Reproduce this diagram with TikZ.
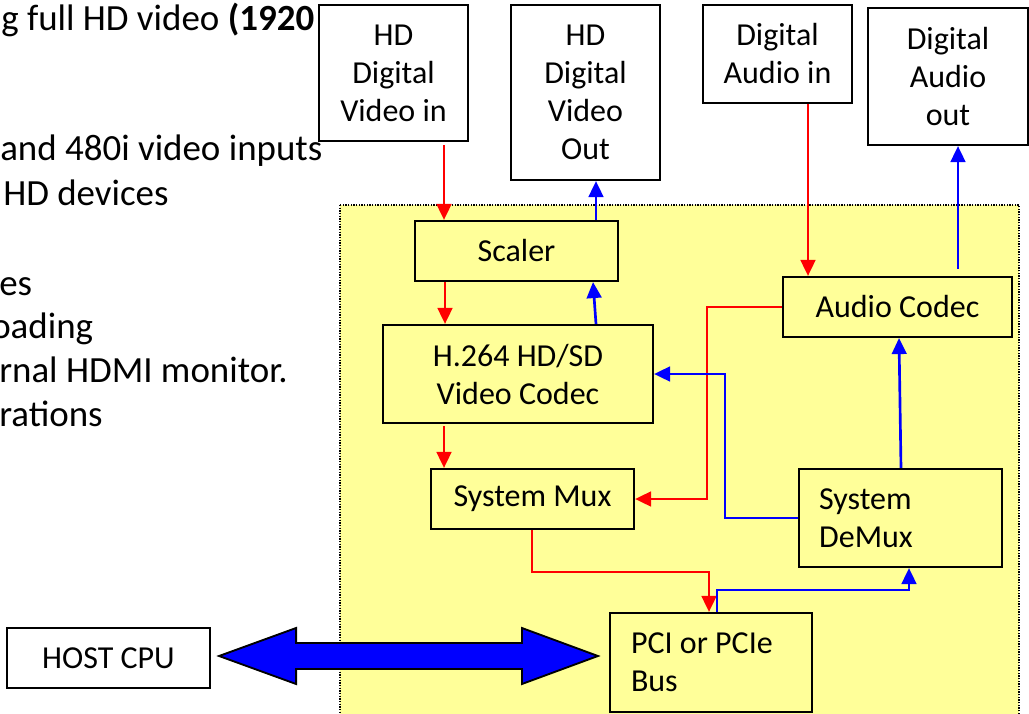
\documentclass[tikz,border=0pt]{standalone}
\usepackage{fontspec}
\setmainfont{Carlito}
\usetikzlibrary{arrows.meta,calc}
\definecolor{bgyellow}{HTML}{FFFF99}
\definecolor{arrred}{HTML}{FF0000}
\definecolor{arrblue}{HTML}{0000FF}
\newcommand\boxfont{\fontsize{24}{28.5}\selectfont}
\newcommand\sidefont{\fontsize{27.7}{33}\selectfont}
\tikzset{
  sz/.style 2 args={minimum width=#1*0.75pt, minimum height=#2*0.75pt},
  box/.style={draw=black, line width=1.6pt, inner sep=0pt, align=center, font=\boxfont},
  whitebox/.style={box, fill=white},
  yellowbox/.style={box, fill=bgyellow},
  sidetext/.style={anchor=base west, inner sep=0pt, font=\sidefont},
  ra/.style={draw=arrred, line width=2pt, -{Triangle[length=12pt,width=11pt]}},
  ba/.style={draw=arrblue, line width=2pt, -{Triangle[length=12pt,width=11pt]}},
  region/.style={fill=bgyellow, draw=black, line width=0.8pt, dash pattern=on 1pt off 1pt},
  fatarrow/.style={fill=arrblue, draw=black, line width=1.4pt, line join=miter},
}
\begin{document}
\begin{tikzpicture}[x=0.75pt,y=-0.75pt]
\useasboundingbox (0,0) rectangle (1029,714);
\fill[white] (0,0) rectangle (1029,714);
% board region
\draw[region] (340,205) rectangle (1019,740);

% left text (cut off at the picture's edge, as in the original)
\node[sidetext] (l1) at (1,30) {g full HD video \textbf{(1920}};
\node[sidetext] (l2) at (0,160) {and 480i video inputs};
\node[sidetext] (l3) at (3,205) {HD devices};
\node[sidetext] (l4) at (-1,295) {es};
\node[sidetext] (l5) at (-9,338) {oading};
\node[sidetext] (l6) at (-1,382) {rnal HDMI monitor.};
\node[sidetext] (l7) at (-1,426) {rations};

% top boxes
\node[whitebox, sz={149}{136}] (vin) at (393.5,73) {HD\\Digital\\Video in};
\node[whitebox, sz={149}{175}] (vout) at (585.5,92.5) {HD\\Digital\\Video\\Out};
\node[whitebox, sz={149}{98}] (ain) at (777.5,54) {Digital\\Audio in};
\node[whitebox, sz={160}{137}] (aout) at (948,76.5) {Digital\\Audio\\out};

% inner boxes
\node[yellowbox, sz={203}{60}] (scaler) at (516.5,251) {Scaler};
\node[yellowbox, sz={270}{98}] (h264) at (518,374) {H.264 HD/SD\\Video Codec};
\node[yellowbox, sz={229}{60}] (acodec) at (897.5,307) {Audio Codec};
\node[yellowbox, sz={203}{60}] (smux) at (532.5,499) {System Mux};
\node[yellowbox, sz={203}{98}, text width=122pt, align=flush left] (demux) at (900.5,518) {System\\DeMux};
\node[yellowbox, sz={202}{99}, text width=120pt, align=flush left] (pci) at (711,662.5) {PCI or PCIe\\Bus};
\node[whitebox, sz={203}{60}] (host) at (108.5,658) {HOST CPU};

% connectors
\draw[ra] ($(vin.south)+(50.5,3)$) -- ($(scaler.north)+(-72.5,0)$);
\draw[ba] ($(scaler.north)+(79.5,0)$) -- ($(vout.south)+(10.5,0)$);
\draw[ra] ($(ain.south)+(30.5,0)$) -- ($(acodec.north)+(-89.5,0)$);
\draw[ba] ($(acodec.north)+(60.5,-7)$) -- ($(aout.south)+(10,0)$);
\draw[ra] ($(scaler.south)+(-71.5,0)$) -- ($(h264.north)+(-73,0)$);
\draw[ba] ($(h264.north)+(78,0)$) -- ($(scaler.south)+(76.5,0)$);
\draw[ra] ($(h264.south)+(-74,2)$) -- ($(smux.north)+(-88.5,0)$);
\draw[ra] (acodec.west) -- ++(-75,0) |- (smux.east);
\draw[ba] (demux.west) -- ++(-73,0) |- (h264.east);
\draw[ba] ($(demux.north)+(0.5,0)$) -- ($(acodec.south)+(1.5,0)$);
\draw[ra] ($(smux.south)+(-0.5,0)$) -- ++(0,42) -| ($(pci.north)+(-2,0)$);
\draw[ba] ($(pci.north)+(6,0)$) -- ++(0,-22) -| ($(demux.south)+(8.5,0)$);

% bus double arrow between host and pci
\coordinate (al) at ($(host.east)+(8,-2)$);
\coordinate (ar) at ($(pci.west)+(-11,-6.5)$);
\draw[fatarrow] (al) -- ++(77,-28) -- ++(0,15) -- ($(ar)+(-76,-13)$) -- ++(0,-15)
  -- (ar) -- ++(-76,28) -- ++(0,-15) -- ($(al)+(77,13)$) -- ++(0,15) -- cycle;
\end{tikzpicture}
\end{document}
